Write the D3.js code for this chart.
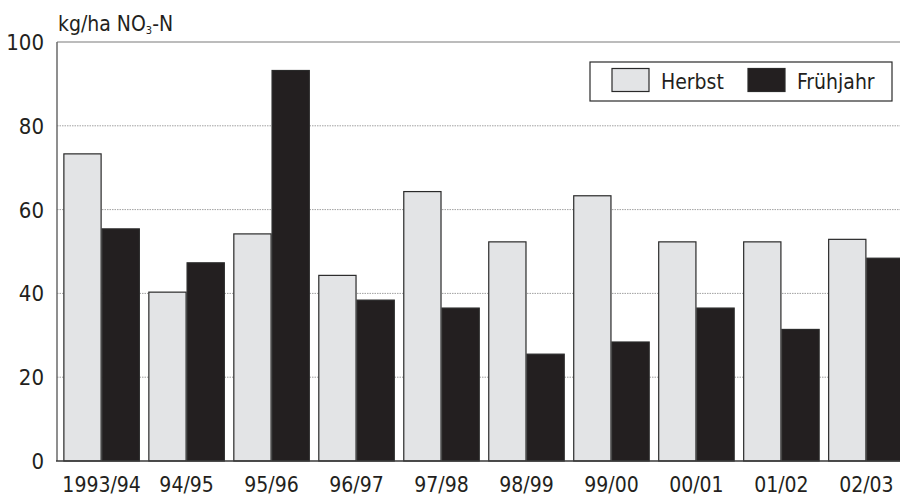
<!DOCTYPE html>
<html><head><meta charset="utf-8">
<script src="https://cdn.jsdelivr.net/npm/d3@7"></script>
<style>
body{margin:0;background:#fff;}
text{font-family:"DejaVu Sans Condensed","Liberation Sans Narrow","Roboto",sans-serif;fill:#231f20;}
</style></head>
<body><svg id="c" width="900" height="497"></svg>
<script>
const categories = ["1993/94","94/95","95/96","96/97","97/98","98/99","99/00","00/01","01/02","02/03"];
const herbst = [73.3,40.3,54.2,44.3,64.3,52.3,63.3,52.3,52.3,52.9];
const fruehjahr = [55.4,47.3,93.2,38.4,36.5,25.5,28.4,36.5,31.4,48.4];
const yTicks = [0,20,40,60,80,100];
const seriesNames = ["Herbst","Frühjahr"];
const colors = ["#e3e4e6","#231f20"];

const svg = d3.select("#c");
const x = d3.scaleBand().domain(categories).range([57,911]).paddingInner(0.1).paddingOuter(0.075);
const x1 = d3.scaleBand().domain(seriesNames).range([0,x.bandwidth()]);
const y = d3.scaleLinear().domain([0,100]).range([461,42]);

// gridlines
svg.append("g").selectAll("line").data(yTicks.filter(d=>d>0&&d<100)).join("line")
  .attr("x1",57).attr("x2",900).attr("y1",d=>y(d)).attr("y2",d=>y(d))
  .attr("stroke","#a0a0a0").attr("stroke-width",1).attr("stroke-dasharray","1.5,1");
svg.append("line").attr("x1",57).attr("x2",900).attr("y1",y(100)).attr("y2",y(100))
  .attr("stroke","#7a7a7a").attr("stroke-width",1.2);

// bars
const data = categories.map((c,i)=>({c, vals:[herbst[i],fruehjahr[i]]}));
const g = svg.append("g").selectAll("g").data(data).join("g")
  .attr("transform",d=>`translate(${x(d.c)},0)`);
g.selectAll("rect").data(d=>d.vals.map((v,j)=>({v,j}))).join("rect")
  .attr("x",d=>x1(seriesNames[d.j])+0.5).attr("width",x1.bandwidth()-1)
  .attr("y",d=>y(d.v)).attr("height",d=>y(0)-y(d.v))
  .attr("fill",d=>colors[d.j]).attr("stroke","#2a2a2a").attr("stroke-width",1.2);

// axes lines
svg.append("line").attr("x1",57).attr("x2",57).attr("y1",y(100)).attr("y2",y(0))
  .attr("stroke","#6a6a6a").attr("stroke-width",1.5);
svg.append("line").attr("x1",56).attr("x2",900).attr("y1",y(0)).attr("y2",y(0))
  .attr("stroke","#3a3a3a").attr("stroke-width",1.5);

// y tick labels
svg.append("g").selectAll("text").data(yTicks).join("text")
  .attr("x",44).attr("y",d=>y(d)).attr("dy","0.36em").attr("text-anchor","end")
  .attr("font-size",22).text(d=>d);

// x labels
svg.append("g").selectAll("text").data(categories).join("text")
  .attr("x",d=>x(d)+x.bandwidth()/2).attr("y",492).attr("text-anchor","middle")
  .attr("font-size",21).text(d=>d);

// unit label
const t = svg.append("text").attr("x",58).attr("y",31).attr("font-size",21);
t.append("tspan").text("kg/ha NO");
t.append("tspan").attr("font-size",11).attr("dy",3).text("3");
t.append("tspan").attr("dy",-3).text("-N");

// legend
const lg = svg.append("g");
lg.append("rect").attr("x",590).attr("y",62).attr("width",302).attr("height",39)
  .attr("fill","#fff").attr("stroke","#2a2a2a").attr("stroke-width",1.2);
const lx = [612,748];
seriesNames.forEach((s,i)=>{
  lg.append("rect").attr("x",lx[i]).attr("y",68.5).attr("width",37).attr("height",23)
    .attr("fill",colors[i]).attr("stroke","#2a2a2a").attr("stroke-width",1.2);
  lg.append("text").attr("x",lx[i]+49).attr("y",89).attr("font-size",21).text(s);
});
</script></body></html>
